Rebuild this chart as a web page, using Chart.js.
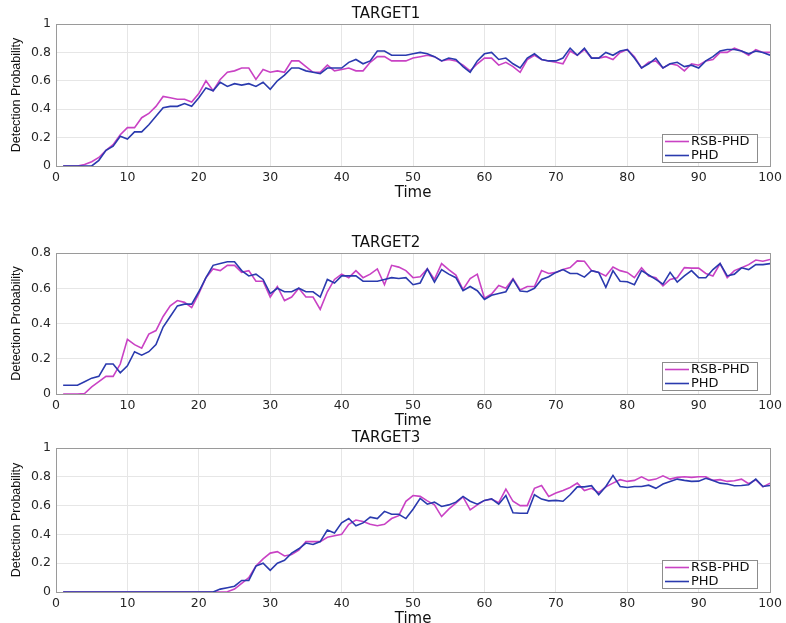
<!DOCTYPE html>
<html>
<head>
<meta charset="utf-8">
<script src="https://cdn.jsdelivr.net/npm/chart.js@4.4.1/dist/chart.umd.min.js"></script>
<style>
  html, body { margin: 0; padding: 0; background: #fff; overflow: hidden; }
  body { width: 786px; height: 623px; position: relative; }
  canvas { position: absolute; left: 0; }
</style>
</head>
<body>
<canvas id="plot1" width="786" height="202" style="top:0px"></canvas>
<canvas id="plot2" width="786" height="201" style="top:229px"></canvas>
<canvas id="plot3" width="786" height="204" style="top:424px"></canvas>
<script>
const seriesNames = ['RSB-PHD', 'PHD'];
const titles = ['TARGET1', 'TARGET2', 'TARGET3'];
const xTicks = [0, 10, 20, 30, 40, 50, 60, 70, 80, 90, 100];
const yTicksA = [0, 0.2, 0.4, 0.6, 0.8, 1];
const yLabelsA = ['0', '0.2', '0.4', '0.6', '0.8', '1'];
const yTicksB = [0, 0.2, 0.4, 0.6, 0.8];
const yLabelsB = ['0', '0.2', '0.4', '0.6', '0.8'];
const time = Array.from({ length: 100 }, (_, i) => i + 1);

const rsb1 = [0, 0, 0, 0.01, 0.03, 0.06, 0.11, 0.15, 0.22, 0.27,
    0.27, 0.34, 0.37, 0.42, 0.49, 0.48, 0.47, 0.47, 0.45, 0.51,
    0.60, 0.53, 0.61, 0.66, 0.67, 0.69, 0.69, 0.61, 0.68, 0.66,
    0.67, 0.66, 0.74, 0.74, 0.70, 0.66, 0.66, 0.71, 0.67, 0.68,
    0.69, 0.67, 0.67, 0.73, 0.77, 0.77, 0.74, 0.74, 0.74, 0.76,
    0.77, 0.78, 0.77, 0.74, 0.75, 0.74, 0.71, 0.67, 0.72, 0.76,
    0.76, 0.71, 0.73, 0.70, 0.66, 0.75, 0.78, 0.75, 0.74, 0.73,
    0.72, 0.81, 0.78, 0.82, 0.76, 0.76, 0.77, 0.75, 0.80, 0.82,
    0.77, 0.69, 0.73, 0.74, 0.69, 0.72, 0.71, 0.67, 0.72, 0.71,
    0.74, 0.75, 0.80, 0.80, 0.83, 0.81, 0.78, 0.82, 0.80, 0.80];
const phd1 = [0, 0, 0, 0, 0, 0.04, 0.11, 0.14, 0.21, 0.19,
    0.24, 0.24, 0.29, 0.35, 0.41, 0.42, 0.42, 0.44, 0.42, 0.48,
    0.55, 0.53, 0.59, 0.56, 0.58, 0.57, 0.58, 0.56, 0.59, 0.54,
    0.60, 0.64, 0.69, 0.69, 0.67, 0.66, 0.65, 0.69, 0.69, 0.69,
    0.73, 0.75, 0.72, 0.74, 0.81, 0.81, 0.78, 0.78, 0.78, 0.79,
    0.80, 0.79, 0.77, 0.74, 0.76, 0.75, 0.70, 0.66, 0.74, 0.79,
    0.80, 0.75, 0.76, 0.72, 0.69, 0.76, 0.79, 0.75, 0.74, 0.74,
    0.76, 0.83, 0.78, 0.83, 0.76, 0.76, 0.80, 0.78, 0.81, 0.82,
    0.76, 0.69, 0.72, 0.76, 0.69, 0.72, 0.73, 0.70, 0.71, 0.69,
    0.74, 0.77, 0.81, 0.82, 0.82, 0.81, 0.79, 0.81, 0.80, 0.78];

const rsb2 = [0, 0, 0, 0.003, 0.04, 0.07, 0.10, 0.10, 0.17, 0.31,
    0.28, 0.26, 0.34, 0.36, 0.44, 0.50, 0.53, 0.52, 0.49, 0.57,
    0.66, 0.71, 0.70, 0.73, 0.73, 0.69, 0.70, 0.64, 0.64, 0.55,
    0.61, 0.53, 0.55, 0.60, 0.55, 0.55, 0.48, 0.58, 0.65, 0.68,
    0.66, 0.70, 0.66, 0.68, 0.71, 0.62, 0.73, 0.72, 0.70, 0.66,
    0.665, 0.71, 0.65, 0.74, 0.706, 0.675, 0.593, 0.655, 0.68, 0.544,
    0.567, 0.616, 0.60, 0.655, 0.59, 0.61, 0.61, 0.70, 0.684, 0.69,
    0.706, 0.717, 0.755, 0.753, 0.70, 0.69, 0.67, 0.72, 0.70, 0.69,
    0.66, 0.716, 0.67, 0.66, 0.614, 0.65, 0.66, 0.717, 0.714, 0.714,
    0.684, 0.67, 0.74, 0.66, 0.70, 0.716, 0.734, 0.76, 0.753, 0.763];
const phd2 = [0.05, 0.05, 0.05, 0.07, 0.09, 0.10, 0.17, 0.17, 0.12, 0.16,
    0.24, 0.22, 0.24, 0.28, 0.38, 0.44, 0.50, 0.51, 0.51, 0.58,
    0.66, 0.73, 0.74, 0.75, 0.75, 0.70, 0.67, 0.68, 0.65, 0.57,
    0.60, 0.58, 0.58, 0.60, 0.58, 0.58, 0.55, 0.65, 0.63, 0.67,
    0.67, 0.67, 0.64, 0.64, 0.64, 0.65, 0.66, 0.655, 0.66, 0.62,
    0.63, 0.71, 0.635, 0.706, 0.68, 0.66, 0.586, 0.61, 0.586, 0.537,
    0.56, 0.57, 0.58, 0.65, 0.584, 0.58, 0.60, 0.65, 0.665, 0.69,
    0.706, 0.684, 0.684, 0.663, 0.70, 0.69, 0.605, 0.70, 0.64, 0.637,
    0.62, 0.70, 0.675, 0.65, 0.623, 0.69, 0.635, 0.67, 0.70, 0.66,
    0.66, 0.706, 0.74, 0.67, 0.68, 0.716, 0.706, 0.734, 0.734, 0.74];

const rsb3 = [0, 0, 0, 0, 0, 0, 0, 0, 0, 0,
    0, 0, 0, 0, 0, 0, 0, 0, 0, 0,
    0, 0, 0, 0.002, 0.02, 0.06, 0.10, 0.18, 0.23, 0.27,
    0.28, 0.25, 0.26, 0.29, 0.35, 0.35, 0.35, 0.38, 0.39, 0.40,
    0.47, 0.50, 0.49, 0.47, 0.46, 0.47, 0.51, 0.53, 0.63, 0.67,
    0.664, 0.633, 0.605, 0.524, 0.575, 0.617, 0.66, 0.57, 0.605, 0.636,
    0.645, 0.62, 0.715, 0.63, 0.60, 0.60, 0.72, 0.74, 0.664, 0.687,
    0.705, 0.726, 0.756, 0.705, 0.72, 0.69, 0.73, 0.756, 0.78, 0.768,
    0.775, 0.80, 0.775, 0.784, 0.807, 0.784, 0.796, 0.80, 0.796, 0.80,
    0.80, 0.775, 0.78, 0.768, 0.773, 0.784, 0.752, 0.78, 0.73, 0.756];
const phd3 = [0, 0, 0, 0, 0, 0, 0, 0, 0, 0,
    0, 0, 0, 0, 0, 0, 0, 0, 0, 0,
    0, 0, 0.02, 0.03, 0.04, 0.08, 0.08, 0.18, 0.20, 0.15,
    0.20, 0.22, 0.27, 0.30, 0.34, 0.33, 0.35, 0.43, 0.41, 0.48,
    0.51, 0.46, 0.48, 0.52, 0.51, 0.56, 0.54, 0.54, 0.51, 0.575,
    0.65, 0.61, 0.624, 0.594, 0.605, 0.624, 0.664, 0.63, 0.61, 0.636,
    0.647, 0.61, 0.67, 0.55, 0.547, 0.547, 0.675, 0.645, 0.633, 0.636,
    0.63, 0.675, 0.73, 0.73, 0.738, 0.675, 0.733, 0.81, 0.733, 0.726,
    0.733, 0.733, 0.742, 0.72, 0.75, 0.768, 0.784, 0.775, 0.768, 0.77,
    0.79, 0.775, 0.756, 0.75, 0.738, 0.74, 0.745, 0.784, 0.733, 0.74];

const colors = ['#c942c4', '#2a3aae'];

// axes box + legend inside the lower right corner
const boxAndLegend = {
    id: 'boxAndLegend',
    afterDraw(chart) {
        const { ctx, chartArea: a } = chart;
        ctx.save();
        ctx.strokeStyle = '#9a9a9a';
        ctx.lineWidth = 1;
        ctx.strokeRect(Math.round(a.left) + 0.5, Math.round(a.top) + 0.5,
            Math.round(a.right - a.left), Math.round(a.bottom - a.top));

        const w = 95, h = 28;
        const x = Math.round(a.right - 13 - w), y = Math.round(a.bottom - 4 - h);
        ctx.fillStyle = '#fff';
        ctx.fillRect(x, y, w, h);
        ctx.strokeStyle = '#8c8c8c';
        ctx.strokeRect(x + 0.5, y + 0.5, w, h);
        ctx.font = '13px "DejaVu Sans"';
        ctx.textBaseline = 'middle';
        chart.data.datasets.forEach((ds, i) => {
            const cy = y + 7.5 + i * 14;
            ctx.strokeStyle = ds.borderColor;
            ctx.lineWidth = 1.6;
            ctx.beginPath();
            ctx.moveTo(x + 3, cy);
            ctx.lineTo(x + 27, cy);
            ctx.stroke();
            ctx.fillStyle = '#111';
            ctx.fillText(ds.label, x + 29, cy + 0.5);
        });
        ctx.restore();
    }
};

function makePlot(id, title, rsb, phd, yTicks, yLabels) {
    const ctx = document.getElementById(id).getContext('2d');
    new Chart(ctx, {
        type: 'line',
        data: {
            datasets: [
                { label: seriesNames[0], data: time.map((t, i) => ({ x: t, y: rsb[i] })),
                  borderColor: colors[0], borderWidth: 1.6, pointRadius: 0, fill: false, order: 1 },
                { label: seriesNames[1], data: time.map((t, i) => ({ x: t, y: phd[i] })),
                  borderColor: colors[1], borderWidth: 1.6, pointRadius: 0, fill: false, order: 0 }
            ]
        },
        options: {
            responsive: false,
            animation: false,
            layout: { padding: { left: 0, right: 14, top: 0, bottom: 0 } },
            plugins: {
                legend: { display: false },
                tooltip: { enabled: false },
                title: {
                    display: true, text: title, color: '#111',
                    font: { family: 'DejaVu Sans', size: 15, weight: 'normal' },
                    padding: { top: 5, bottom: 1 }
                }
            },
            scales: {
                x: {
                    type: 'linear', min: 0, max: 100,
                    afterBuildTicks: s => { s.ticks = xTicks.map(v => ({ value: v })); },
                    afterFit: s => { s.height = 36; },
                    grid: { color: '#e6e6e6', drawTicks: false },
                    border: { color: '#9a9a9a' },
                    ticks: { color: '#262626', padding: 4, maxRotation: 0,
                             font: { family: 'DejaVu Sans', size: 12.5 } },
                    title: { display: true, text: 'Time', color: '#111',
                             font: { family: 'DejaVu Sans', size: 15 },
                             padding: { top: 0, bottom: 0 } }
                },
                y: {
                    type: 'linear', min: 0, max: yTicks[yTicks.length - 1],
                    afterBuildTicks: s => { s.ticks = yTicks.map(v => ({ value: v })); },
                    afterFit: s => { s.width = 56; },
                    grid: { color: '#e6e6e6', drawTicks: false },
                    border: { color: '#9a9a9a' },
                    ticks: { color: '#262626', padding: 5,
                             font: { family: 'DejaVu Sans', size: 12.5 },
                             callback: (v, i) => yLabels[i] },
                    title: { display: true, text: 'Detection Probability', color: '#111',
                             font: { family: 'Liberation Sans', size: 12.5 },
                             padding: { top: 9.5, bottom: 0 } }
                }
            }
        },
        plugins: [boxAndLegend]
    });
}

makePlot('plot1', titles[0], rsb1, phd1, yTicksA, yLabelsA);
makePlot('plot2', titles[1], rsb2, phd2, yTicksB, yLabelsB);
makePlot('plot3', titles[2], rsb3, phd3, yTicksA, yLabelsA);
</script>
</body>
</html>
